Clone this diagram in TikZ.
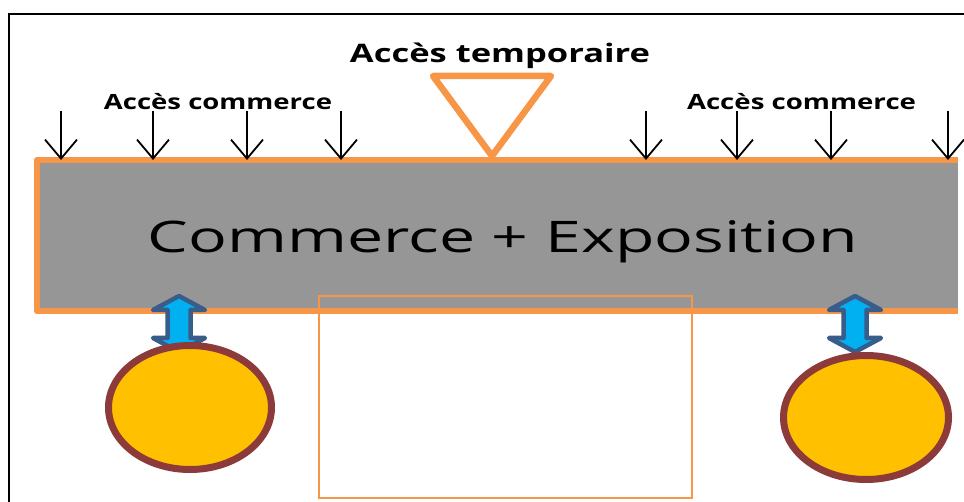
\documentclass[tikz,border=0pt]{standalone}
\usepackage{graphicx}
\usepackage{fontspec}
\setmainfont{Open Sans}
\usetikzlibrary{arrows.meta,calc,shapes.geometric}
\definecolor{orng}{HTML}{F79646}
\definecolor{graybox}{HTML}{969696}
\definecolor{gold}{HTML}{FFC000}
\definecolor{brn}{HTML}{8C3A3A}
\definecolor{skyb}{HTML}{00B0F0}
\definecolor{navyb}{HTML}{385D8A}
\tikzset{
  downarr/.style={-{Straight Barb[length=19pt,width=32pt]}, line width=1.8pt},
  blk/.style={draw=navyb, fill=skyb, line width=4.5pt, line join=round},
  pond/.style={ellipse, draw=brn, fill=gold, line width=7pt, inner sep=0},
  dblarrow/.pic={\path[blk] (0,-28) -- (26,-14) -- (11.5,-14) -- (11.5,14) -- (26,14) -- (0,28)
     -- (-26,14) -- (-11.5,14) -- (-11.5,-14) -- (-26,-14) -- cycle;},
  lbl/.style={anchor=base, inner sep=0}
}
\begin{document}
\begin{tikzpicture}[x=1pt,y=-1pt]
\useasboundingbox (0,0) rectangle (964,502);
% frame
\coordinate (fb) at (9,502);
\coordinate (fc) at (9,14);
\coordinate (fr) at (964,14);
\draw[line width=2pt] (fb) -- (fc) -- (fr);
% main block
\node[fill=graybox, minimum width=921pt, minimum height=151pt, inner sep=0, outer sep=0, anchor=north west] (main) at (37,160) {};
\draw[orng, line width=6.5pt, line join=round] (main.north east) -- (main.north west) -- (main.south west) -- (main.south east);
\node[lbl] (title) at (503,253) {\resizebox{710pt}{\height}{\fontsize{43.5}{43.5}\selectfont Commerce + Exposition}};
% temporary access triangle
\coordinate (tl) at (433,76);
\coordinate (tr) at (551,76);
\coordinate (tapex) at (492,156);
\draw[orng, line width=6.5pt, line join=round, fill=white] (tl) -- (tr) -- (tapex) -- cycle;
\node[lbl] (acctemp) at (500,63) {\resizebox{300pt}{\height}{\fontsize{25.5}{25.5}\selectfont\bfseries Accès temporaire}};
% commerce access labels
\node[lbl] (accL) at (218,110) {\resizebox{228pt}{\height}{\fontsize{21}{21}\selectfont\bfseries Accès commerce}};
\node[lbl] (accR) at (801.5,110) {\resizebox{229pt}{\height}{\fontsize{21}{21}\selectfont\bfseries Accès commerce}};
% down arrows
\foreach \n/\x in {a1/61,a2/153,a3/247,a4/341,a5/646,a6/737,a7/831,a8/948}{
  \coordinate (\n) at (\x,111);
  \draw[downarr] (\n) -- (\n |- main.north);
}
% block arrows
\pic (bL) at (179,324) {dblarrow};
\pic (bR) at (855,324) {dblarrow};
% ponds
\node[pond, minimum width=163pt, minimum height=124pt] (circL) at (190,407.5) {};
\node[pond, minimum width=165pt, minimum height=124pt] (circR) at (866,417.5) {};
% pavilion outline
\node[draw=orng, line width=2pt, minimum width=373pt, minimum height=202pt, inner sep=0, anchor=north west] (pav) at (318,295) {};
\end{tikzpicture}
\end{document}
